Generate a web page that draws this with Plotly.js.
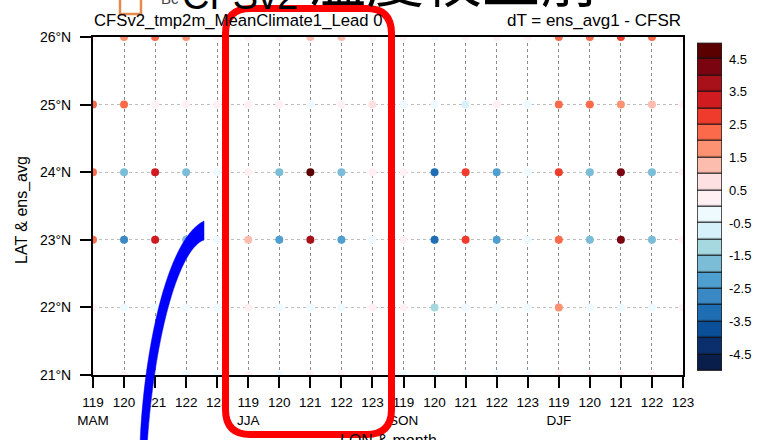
<!DOCTYPE html>
<html><head><meta charset="utf-8">
<script src="https://cdn.plot.ly/plotly-3.0.1.min.js"></script>
<style>html,body{margin:0;padding:0;background:#fff;}#chart{width:759px;height:440px;}</style>
</head><body><div id="chart"></div>
<script>
// ---- data ----
const seasons = ['MAM', 'JJA', 'SON', 'DJF'];
const lons = [119, 120, 121, 122, 123];
const lats = [21, 22, 23, 24, 25, 26];
// dT values for each latitude row, columns = MAM119..123, JJA119..123, SON119..123, DJF119..123
const dT21 = [0.2, 0.3, -0.2, -0.3, -0.5, 0.3, -0.2, 0.2, 0.2, 0.2, -0.2, -0.3, -0.2, -0.2, -0.4, 0.3, 0.2, 0.2, 0.3, 0.2];
const dT22 = [0.3, -0.3, -0.2, -0.3, -0.2, 0.4, -0.2, -0.2, -0.2, 0.3, 0.3, -1.2, -0.4, -0.4, -0.2, 1.6, -0.5, -0.2, -0.2, 0.3];
const dT23 = [2.0, -2.6, 3.0, -2.0, -0.3, 1.3, -2.2, 3.8, -2.3, -0.2, 0.3, -3.4, 2.7, -2.4, -0.4, 2.4, -1.7, 4.3, -1.6, 0.2];
const dT24 = [2.2, -1.6, 3.2, -1.6, -0.3, 0.4, -1.8, 4.6, -1.8, 0.3, 0.3, -3.3, 2.8, -2.3, -0.4, 2.8, -1.6, 4.2, -1.6, 0.3];
const dT25 = [2.1, 2.1, 0.2, 0.3, 0.3, 0.3, 0.4, -0.2, 0.3, 0.6, -0.2, -0.3, -0.6, 0.3, -0.3, 2.3, 2.4, 1.8, 1.3, 0.4];
const dT26 = [0.3, 1.7, 2.3, 1.6, 0.3, 0.2, 0.4, 1.3, 1.2, 0.4, 0.3, -0.2, 0.4, 0.3, 0.2, 2.4, 2.4, 2.8, 2.2, 0.3];
const rows = [dT21, dT22, dT23, dT24, dT25, dT26];
// colour levels (low -> high)
const levelEdges = [-5, -4.5, -4, -3.5, -3, -2.5, -2, -1.5, -1, -0.5, 0, 0.5, 1, 1.5, 2, 2.5, 3, 3.5, 4, 4.5, 5];
const levelColors = ['#0a1e4c', '#0b2f6c', '#0a4f98', '#1f6db2', '#3a88c4', '#4e9ecf', '#7bbdd6', '#a6d8df', '#d6f1fa', '#eefaff',
                     '#fff0f4', '#fde0e2', '#fcbcae', '#fc9272', '#fb6a4a', '#ef3b2c', '#d01c20', '#a8101a', '#7a0511', '#5a0000'];
const cbarLabels = [-4.5, -3.5, -2.5, -1.5, -0.5, 0.5, 1.5, 2.5, 3.5, 4.5];

// ---- build ----
const FONT = 'Liberation Sans, Arial, Helvetica, sans-serif';
const CJK = 'Noto Sans CJK TC, Noto Sans CJK SC, sans-serif';
const W = 759, H = 440, ML = 93, MR = 5, MT = 37, MB = 65;
const PW = W - ML - MR, PH = H - MT - MB;
const px = x => (x - ML) / PW;
const py = y => (H - MB - y) / PH;

const cs = [];
levelColors.forEach((c, i) => { cs.push([i / levelColors.length, c]); cs.push([(i + 1) / levelColors.length, c]); });

const xs = [], ys = [], cs2 = [];
rows.forEach((r, ri) => r.forEach((v, ci) => { xs.push(ci); ys.push(lats[ri]); cs2.push(v); }));

const tickvals = [], ticktext = [];
seasons.forEach((s, si) => lons.forEach((l, li) => {
  tickvals.push(si * lons.length + li);
  ticktext.push(li === 0 ? (l + '<br>' + s) : String(l));
}));

const dots = {
  type: 'scatter', mode: 'markers', x: xs, y: ys, xaxis: 'x', yaxis: 'y',
  marker: { size: 8, color: cs2, colorscale: cs, cmin: levelEdges[0], cmax: levelEdges[levelEdges.length - 1], line: { width: 0 } },
  cliponaxis: true, hoverinfo: 'skip', showlegend: false
};
const mids = levelEdges.slice(0, -1).map((e, i) => (e + levelEdges[i + 1]) / 2);
const cbar = {
  type: 'heatmap', x: [0], y: mids, z: mids.map(m => [m]), xaxis: 'x2', yaxis: 'y2',
  colorscale: cs, zmin: levelEdges[0], zmax: levelEdges[levelEdges.length - 1], showscale: false, ygap: 1.2, hoverinfo: 'skip'
};

const axBase = {
  showline: true, linecolor: '#000', linewidth: 2, mirror: true,
  ticks: 'outside', ticklen: 11, tickwidth: 2, tickcolor: '#000',
  showgrid: true, gridwidth: 1, griddash: '3px,3px', zeroline: false,
  tickfont: { family: FONT, size: 13.5, color: '#000' }
};

function roundRect(L, T, R, B, r) {
  const X = px, Y = py;
  return `M${X(L)},${Y(T + r)} Q${X(L)},${Y(T)} ${X(L + r)},${Y(T)} L${X(R - r)},${Y(T)} Q${X(R)},${Y(T)} ${X(R)},${Y(T + r)} ` +
         `L${X(R)},${Y(B - r)} Q${X(R)},${Y(B)} ${X(R - r)},${Y(B)} L${X(L + r)},${Y(B)} Q${X(L)},${Y(B)} ${X(L)},${Y(B - r)} Z`;
}
const arrowPath = `M${px(140)},${py(446)} C${px(143)},${py(360)} ${px(165)},${py(240)} ${px(204)},${py(221)} ` +
                  `L${px(204)},${py(240)} C${px(180)},${py(248)} ${px(155)},${py(330)} ${px(147)},${py(446)} Z`;

const layout = {
  width: W, height: H, margin: { l: ML, r: MR, t: MT, b: MB },
  paper_bgcolor: '#fff', plot_bgcolor: '#fff', showlegend: false,
  font: { family: FONT, color: '#000' },
  xaxis: Object.assign({}, axBase, {
    domain: [0, px(683)], range: [0, 19], tickvals: tickvals, ticktext: ticktext,
    gridcolor: '#8c8c8c', ticklabelstandoff: 3
  }),
  yaxis: Object.assign({}, axBase, {
    range: [21, 26], tickvals: lats, ticktext: lats.map(l => l + '°N'),
    gridcolor: '#bdbdbd', ticklabelstandoff: 6, tickfont: { family: FONT, size: 14, color: '#000' }
  }),
  xaxis2: { domain: [px(697), px(722)], range: [-0.5, 0.5], anchor: 'y2', visible: false, fixedrange: true },
  yaxis2: {
    domain: [py(370.7), py(42.7)], range: [levelEdges[0], levelEdges[levelEdges.length - 1]], anchor: 'x2', side: 'right',
    tickvals: cbarLabels, ticktext: cbarLabels.map(String), ticks: '', showline: false, showgrid: false, zeroline: false,
    tickfont: { family: FONT, size: 13, color: '#000' }, ticklabelstandoff: 6
  },
  shapes: [
    { type: 'rect', xref: 'x2', yref: 'y2', x0: -0.5, x1: 0.5, y0: levelEdges[0], y1: levelEdges[levelEdges.length - 1], fillcolor: '#111', line: { width: 0 }, layer: 'below' },
    { type: 'rect', xref: 'x2', yref: 'y2', x0: -0.5, x1: 0.5, y0: levelEdges[0], y1: levelEdges[levelEdges.length - 1], fillcolor: 'rgba(0,0,0,0)', line: { width: 1.5, color: '#222' }, layer: 'above' },
    { type: 'rect', xref: 'paper', yref: 'paper', x0: px(120), x1: px(141), y0: py(14), y1: py(-8), fillcolor: '#fff', line: { width: 2.5, color: '#e58a4e' }, layer: 'above' },
    { type: 'path', xref: 'paper', yref: 'paper', path: roundRect(225.5, 8.5, 391.5, 434.5, 25), fillcolor: 'rgba(0,0,0,0)', line: { width: 7, color: '#ff0000' }, layer: 'above' },
    { type: 'path', xref: 'paper', yref: 'paper', path: arrowPath, fillcolor: '#0000ff', line: { width: 0.5, color: '#0000dd' }, layer: 'above' }
  ],
  annotations: [
    { xref: 'paper', yref: 'paper', x: px(92), y: py(20), xanchor: 'left', yanchor: 'middle', showarrow: false,
      text: 'CFSv2_tmp2m_MeanClimate1_Lead 0', font: { family: FONT, size: 16.7, color: '#000' } },
    { xref: 'paper', yref: 'paper', x: px(683), y: py(20), xanchor: 'right', yanchor: 'middle', showarrow: false,
      text: 'dT = ens_avg1 - CFSR', font: { family: FONT, size: 17, color: '#000' } },
    { xref: 'paper', yref: 'paper', x: px(22), y: py(210), xanchor: 'center', yanchor: 'middle', textangle: -90, showarrow: false,
      text: 'LAT & ens_avg', font: { family: FONT, size: 16, color: '#000' } },
    { xref: 'paper', yref: 'paper', x: px(388), y: py(430), xanchor: 'center', yanchor: 'top', showarrow: false,
      text: 'LON & month', font: { family: FONT, size: 16, color: '#000' } },
    { xref: 'paper', yref: 'paper', x: px(159), y: py(9), xanchor: 'left', yanchor: 'bottom', showarrow: false,
      text: 'Bc', font: { family: FONT, size: 15, color: '#444' } },
    { xref: 'paper', yref: 'paper', x: px(180), y: py(19), xanchor: 'left', yanchor: 'bottom', showarrow: false,
      text: 'CFSv2', font: { family: FONT, size: 38, color: '#000' } },
    { xref: 'paper', yref: 'paper', x: px(306), y: py(21), xanchor: 'left', yanchor: 'bottom', showarrow: false,
      text: '溫度校正前', font: { family: CJK, size: 58, color: '#000' } }
  ]
};

Plotly.newPlot('chart', [dots, cbar], layout, { staticPlot: true, displayModeBar: false });
</script>
</body></html>
